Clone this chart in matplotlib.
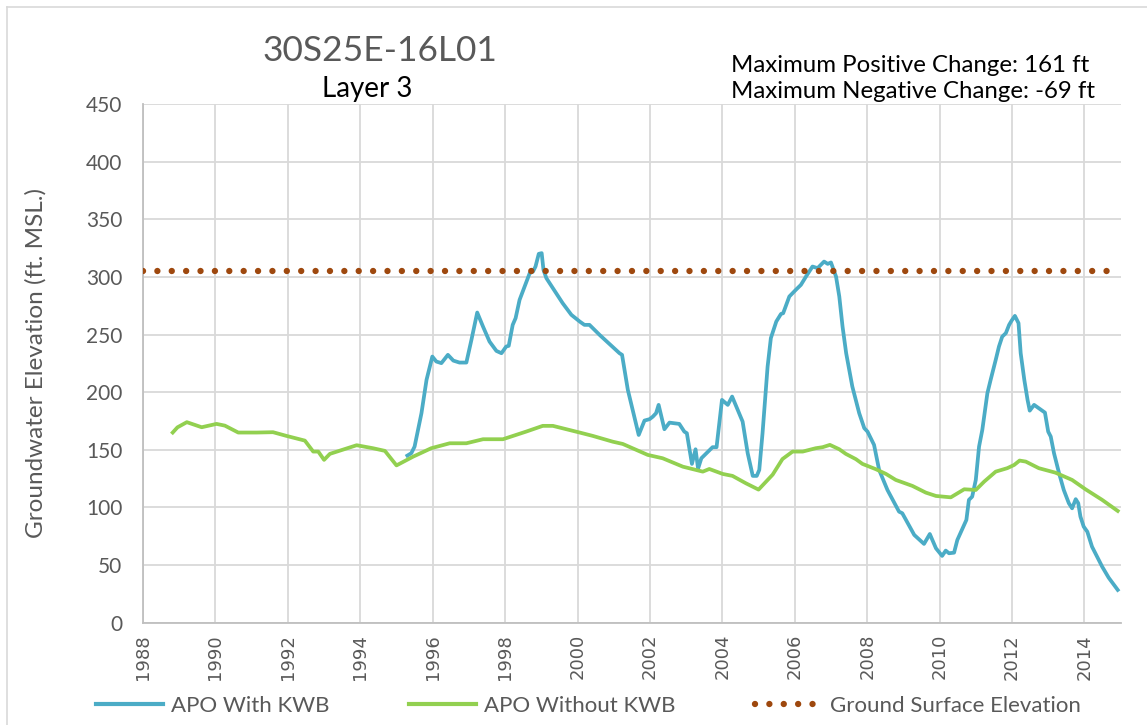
import matplotlib
matplotlib.use("Agg")
import matplotlib.pyplot as plt
from matplotlib.lines import Line2D

# --- data --------------------------------------------------------------
blue_years = [1995.30, 1995.41, 1995.50, 1995.69, 1995.83, 1995.99, 1996.10, 1996.24, 1996.42, 1996.57,
              1996.74, 1996.93, 1997.07, 1997.23, 1997.39, 1997.57, 1997.76, 1997.90, 1998.03, 1998.10,
              1998.21, 1998.29, 1998.40, 1998.59, 1998.68, 1998.77, 1998.84, 1998.93, 1999.01, 1999.06,
              1999.14, 1999.32, 1999.59, 1999.83, 2000.06, 2000.19, 2000.33, 2000.61, 2000.88, 2001.16,
              2001.23, 2001.39, 2001.69, 2001.85, 2001.99, 2002.08, 2002.17, 2002.24, 2002.40, 2002.54,
              2002.81, 2002.95, 2003.02, 2003.16, 2003.26, 2003.33, 2003.42, 2003.73, 2003.84, 2003.99,
              2004.15, 2004.27, 2004.56, 2004.70, 2004.84, 2004.95, 2005.02, 2005.11, 2005.25, 2005.34,
              2005.49, 2005.62, 2005.68, 2005.85, 2006.03, 2006.17, 2006.31, 2006.49, 2006.63, 2006.81,
              2006.91, 2007.00, 2007.14, 2007.23, 2007.32, 2007.42, 2007.59, 2007.78, 2007.92, 2008.01,
              2008.19, 2008.33, 2008.56, 2008.88, 2008.97, 2009.30, 2009.57, 2009.73, 2009.90, 2010.07,
              2010.17, 2010.26, 2010.40, 2010.49, 2010.68, 2010.74, 2010.81, 2010.90, 2011.00, 2011.09,
              2011.18, 2011.32, 2011.41, 2011.55, 2011.64, 2011.73, 2011.83, 2011.92, 2011.99, 2012.08,
              2012.18, 2012.24, 2012.34, 2012.43, 2012.49, 2012.61, 2012.74, 2012.91, 2013.00, 2013.07,
              2013.16, 2013.30, 2013.43, 2013.57, 2013.66, 2013.76, 2013.83, 2013.89, 2013.98, 2014.08,
              2014.21, 2014.49, 2014.67, 2014.92]
blue_vals = [145.0, 147.1, 152.8, 181.8, 210.7, 230.9, 226.6, 225.2, 232.4, 227.4,
             225.7, 225.7, 245.4, 269.1, 256.9, 243.9, 235.8, 233.8, 239.6, 240.2,
             258.4, 264.2, 280.1, 296.0, 303.3, 304.6, 309.0, 320.0, 320.6, 306.1,
             298.9, 290.2, 277.2, 267.1, 261.3, 258.4, 258.4, 249.7, 241.9, 233.8,
             232.4, 202.0, 162.9, 175.4, 176.6, 178.8, 181.8, 189.0, 167.9, 173.6,
             172.5, 165.8, 164.4, 137.8, 150.5, 133.7, 142.7, 152.3, 152.3, 193.3,
             189.0, 196.2, 174.5, 147.1, 127.4, 127.4, 132.6, 164.4, 222.2, 246.9,
             261.3, 267.9, 268.5, 283.0, 288.8, 293.1, 300.3, 309.0, 307.6, 313.3,
             311.3, 312.5, 300.3, 283.0, 256.9, 233.8, 204.9, 181.8, 168.8, 165.8,
             154.3, 132.6, 115.2, 96.4, 95.0, 76.2, 68.4, 77.0, 64.6, 58.0,
             62.6, 60.3, 60.8, 71.8, 84.9, 89.2, 106.6, 109.4, 123.9, 152.8,
             167.3, 199.1, 210.7, 228.0, 239.6, 248.2, 251.2, 258.4, 262.1, 266.2,
             259.9, 233.8, 210.7, 193.3, 184.0, 189.0, 186.1, 182.3, 165.8, 161.5,
             147.1, 129.7, 115.2, 103.7, 99.3, 107.2, 103.7, 92.1, 83.4, 79.0,
             66.0, 48.7, 39.1, 28.5]

green_years = [1988.82, 1988.95, 1989.21, 1989.62, 1990.03, 1990.26, 1990.63, 1991.14, 1991.59, 1991.96,
               1992.47, 1992.70, 1992.84, 1993.00, 1993.16, 1993.90, 1994.35, 1994.68, 1995.00, 1995.46,
               1995.96, 1996.47, 1996.93, 1997.39, 1997.94, 1998.58, 1999.04, 1999.32, 2000.06, 2000.42,
               2000.97, 2001.25, 2001.94, 2002.35, 2002.91, 2003.46, 2003.64, 2004.01, 2004.28, 2004.65,
               2005.00, 2005.39, 2005.66, 2005.94, 2006.22, 2006.58, 2006.77, 2006.97, 2007.23, 2007.41,
               2007.69, 2007.87, 2008.24, 2008.52, 2008.79, 2009.25, 2009.62, 2009.90, 2010.31, 2010.68,
               2011.00, 2011.23, 2011.55, 2011.87, 2012.06, 2012.21, 2012.38, 2012.74, 2013.20, 2013.66,
               2014.03, 2014.49, 2014.92]
green_vals = [165.0, 169.5, 174.0, 169.6, 172.5, 171.0, 165.0, 165.0, 165.3, 162.1,
              158.0, 148.5, 148.5, 141.3, 146.5, 154.0, 151.4, 149.1, 136.5, 144.1,
              151.4, 155.7, 155.7, 159.2, 159.2, 165.8, 170.8, 170.8, 165.0, 162.1,
              157.1, 155.1, 145.6, 142.7, 135.4, 131.1, 133.4, 129.1, 127.4, 121.0,
              115.5, 128.5, 142.0, 148.5, 148.5, 151.4, 152.3, 154.3, 150.5, 146.5,
              141.9, 137.8, 133.2, 129.1, 123.9, 118.7, 112.9, 110.0, 108.8, 115.8,
              115.2, 122.4, 131.1, 134.1, 136.9, 140.7, 139.8, 134.1, 130.2, 123.9,
              115.8, 106.6, 97.0]

ground_years = [1988.0, 2014.92]
ground_vals = [305, 305]

x_ticks = list(range(1988, 2015, 2))
y_ticks = list(range(0, 451, 50))

BLUE = '#4BACC6'
GREEN = '#92D050'
BROWN = '#9E480E'
GRAY = '#595959'
GRID = '#D9D9D9'

plt.rcParams['font.family'] = ['Lato', 'DejaVu Sans']

fig = plt.figure(figsize=(11.47, 7.25), dpi=100)
ax = fig.add_axes([0.1247, 0.141, 0.977 - 0.1247, 0.8566 - 0.141])

ax.plot(blue_years, blue_vals, color=BLUE, lw=2.7, solid_joinstyle='round', zorder=3,
        label='APO With KWB')
ax.plot(green_years, green_vals, color=GREEN, lw=2.7, solid_joinstyle='round', zorder=4,
        label='APO Without KWB')
ax.plot(ground_years, ground_vals, color=BROWN, lw=4.6, linestyle=(0, (0.001, 2.25)),
        dash_capstyle='round', zorder=5, label='Ground Surface Elevation')

ax.set_xlim(1988, 2015)
ax.set_ylim(0, 450)
ax.set_xticks(x_ticks)
ax.set_yticks(y_ticks)
ax.set_xticklabels([str(t) for t in x_ticks], rotation=90, fontsize=13, color=GRAY,
                   family='DejaVu Sans')
ax.set_yticklabels([str(t) for t in y_ticks], fontsize=15, color=GRAY)
ax.tick_params(axis='y', length=0, pad=15)
ax.tick_params(axis='x', length=0, pad=8)
ax.grid(True, color=GRID, lw=1.3)
ax.set_axisbelow(True)
for s in ['top', 'right']:
    ax.spines[s].set_visible(False)
for s in ['left', 'bottom']:
    ax.spines[s].set_color('#BFBFBF')
    ax.spines[s].set_linewidth(1.3)

fig.text(0.031, 0.50, 'Groundwater Elevation (ft. MSL.)', rotation=90, ha='center', va='center',
         fontsize=17.5, color=GRAY)

fig.text(0.331, 0.929, '30S25E-16L01', ha='center', va='center', fontsize=25.5, color=GRAY)
fig.text(0.320, 0.877, 'Layer 3', ha='center', va='center', fontsize=20, color='black')
fig.text(0.637, 0.910, 'Maximum Positive Change: 161 ft', ha='left', va='center', fontsize=17.3,
         color='black')
fig.text(0.637, 0.874, 'Maximum Negative Change: -69 ft', ha='left', va='center', fontsize=17.3,
         color='black')

handles = [
    Line2D([0], [0], color=BLUE, lw=3),
    Line2D([0], [0], color=GREEN, lw=3),
    Line2D([0], [0], color=BROWN, lw=4.6, linestyle=(0, (0.001, 2.25)), dash_capstyle='round'),
]
fig.legend(handles, ['APO With KWB', 'APO Without KWB', 'Ground Surface Elevation'],
           loc='center', bbox_to_anchor=(0.513, 0.026), ncol=3, frameon=False,
           fontsize=16, labelcolor=GRAY, handlelength=3.0, handletextpad=0.35,
           columnspacing=3.6)

# light chart-area border (top and left edges)
fig.add_artist(Line2D([7 / 1147, 1], [1 - 7 / 725, 1 - 7 / 725], transform=fig.transFigure,
                      color=GRID, lw=1.2))
fig.add_artist(Line2D([7 / 1147, 7 / 1147], [0, 1 - 7 / 725], transform=fig.transFigure,
                      color=GRID, lw=1.2))

fig.savefig('out.png', dpi=100)
